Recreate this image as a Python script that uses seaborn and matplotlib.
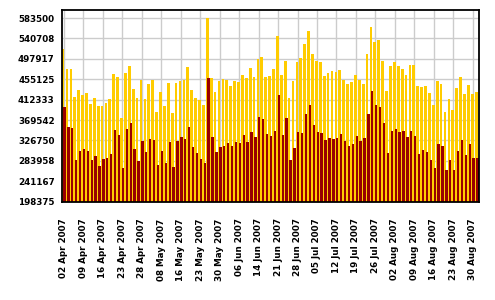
import matplotlib
matplotlib.use("Agg")
import matplotlib.pyplot as plt
import seaborn as sns
import numpy as np
import pandas as pd


# daily values
dates = [
    "02 Apr 2007", "03 Apr 2007", "04 Apr 2007", "05 Apr 2007", "06 Apr 2007",
    "09 Apr 2007", "10 Apr 2007", "11 Apr 2007", "12 Apr 2007", "13 Apr 2007",
    "16 Apr 2007", "17 Apr 2007", "18 Apr 2007", "19 Apr 2007", "20 Apr 2007",
    "23 Apr 2007", "24 Apr 2007", "25 Apr 2007", "26 Apr 2007", "27 Apr 2007",
    "28 Apr 2007", "30 Apr 2007", "02 May 2007", "03 May 2007", "04 May 2007",
    "08 May 2007", "09 May 2007", "10 May 2007", "11 May 2007", "14 May 2007",
    "16 May 2007", "17 May 2007", "18 May 2007", "21 May 2007", "22 May 2007",
    "23 May 2007", "24 May 2007", "25 May 2007", "28 May 2007", "29 May 2007",
    "30 May 2007", "31 May 2007", "01 Jun 2007", "04 Jun 2007", "05 Jun 2007",
    "06 Jun 2007", "07 Jun 2007", "08 Jun 2007", "11 Jun 2007", "12 Jun 2007",
    "14 Jun 2007", "15 Jun 2007", "18 Jun 2007", "19 Jun 2007", "20 Jun 2007",
    "21 Jun 2007", "22 Jun 2007", "25 Jun 2007", "26 Jun 2007", "27 Jun 2007",
    "28 Jun 2007", "29 Jun 2007", "02 Jul 2007", "03 Jul 2007", "04 Jul 2007",
    "05 Jul 2007", "06 Jul 2007", "09 Jul 2007", "10 Jul 2007", "11 Jul 2007",
    "12 Jul 2007", "13 Jul 2007", "16 Jul 2007", "17 Jul 2007", "18 Jul 2007",
    "19 Jul 2007", "20 Jul 2007", "23 Jul 2007", "24 Jul 2007", "25 Jul 2007",
    "26 Jul 2007", "27 Jul 2007", "30 Jul 2007", "31 Jul 2007", "01 Aug 2007",
    "02 Aug 2007", "03 Aug 2007", "06 Aug 2007", "07 Aug 2007", "08 Aug 2007",
    "09 Aug 2007", "10 Aug 2007", "13 Aug 2007", "14 Aug 2007", "15 Aug 2007",
    "16 Aug 2007", "17 Aug 2007", "20 Aug 2007", "21 Aug 2007", "22 Aug 2007",
    "23 Aug 2007", "24 Aug 2007", "27 Aug 2007", "28 Aug 2007", "29 Aug 2007",
    "30 Aug 2007", "31 Aug 2007",
]

yellow_vals = [
    518700, 476400, 476400, 417300, 432100, 421500, 425700, 402500, 415100, 398200,
    398200, 404600, 413000, 465900, 459500, 372900, 468000, 482800, 434200, 415100,
    453200, 413000, 444700, 453200, 385600, 427800, 398200, 446800, 383500, 446800,
    451100, 453900, 480700, 432100, 415100, 410900, 400400, 584000, 457400, 427800,
    451100, 455300, 453200, 440500, 451100, 449000, 463800, 457400, 478500, 459500,
    497600, 501800, 459500, 461600, 476400, 546200, 463800, 493300, 415100, 451100,
    491200, 499700, 529300, 556700, 508100, 493300, 491200, 461600, 468000, 472200,
    470100, 474300, 453200, 444700, 449000, 463800, 453200, 444700, 508100, 565200,
    533500, 537700, 493300, 429900, 482800, 491200, 482800, 476400, 463800, 484900,
    484900, 440500, 438400, 440500, 425700, 400400, 451100, 444700, 385600, 413000,
    389800, 436300, 459500, 423600, 442600, 423600, 427800,
]

red_vals = [
    396100, 356000, 353900, 286200, 305300, 308100, 305300, 286200, 294700, 273600,
    288400, 290500, 298900, 349600, 339100, 269300, 351800, 364400, 309500, 284100,
    326400, 303100, 330600, 328500, 275700, 305300, 279900, 324300, 271500, 326400,
    334800, 330600, 356000, 313700, 301000, 288400, 279900, 457400, 334800, 303100,
    313700, 315800, 322200, 315800, 324300, 322200, 339100, 324300, 345400, 334800,
    375000, 370800, 341200, 337000, 347500, 421500, 339100, 372900, 286200, 311600,
    345400, 343300, 381300, 400400, 360200, 345400, 343300, 328500, 332700, 330600,
    332700, 341200, 326400, 315800, 320100, 337000, 326400, 332700, 381300, 429900,
    400400, 396100, 364400, 301000, 347500, 351800, 345400, 347500, 334800, 347500,
    337000, 298900, 307400, 303100, 286200, 269300, 320100, 315800, 265100, 286200,
    265100, 305300, 328500, 296800, 320100, 290500, 290500,
]

y_ticks = [198375, 241167, 283958, 326750, 369542, 412333, 455125, 497917, 540708, 583500]


def bars_plot(df):
    fig = plt.figure(figsize=(4.95, 3.0), dpi=100)
    ax = fig.add_axes([0.1247, 0.3277, 0.8424, 0.639])

    # yellow behind, dark red in front, shifted a little to the right
    sns.barplot(x=df['pos'] - 0.15, y=df['yellow'], native_scale=True, width=0.7,
                color='#FFCC00', saturation=1, linewidth=0, errorbar=None, ax=ax)
    sns.barplot(x=df['pos'] + 0.2, y=df['red'], native_scale=True, width=0.6,
                color='#990000', saturation=1, linewidth=0, errorbar=None, ax=ax)

    ax.set_xlim(-0.5, len(df) - 0.5)
    ax.set_ylim(198375, 600400)
    ax.set_xlabel('')
    ax.set_ylabel('')

    ax.set_yticks(y_ticks)
    ax.set_yticklabels([str(v) for v in y_ticks], fontsize=6.3, fontweight='bold')
    ax.set_xticks(df['pos'][::5])
    ax.set_xticklabels(df['date'][::5], rotation=90, fontsize=6.3, fontweight='bold')
    ax.set_xticks(df['pos'], minor=True)

    ax.tick_params(axis='y', length=2, width=1, pad=3, colors='black')
    ax.tick_params(axis='x', which='both', length=4, width=1, pad=8, colors='black')

    ax.set_axisbelow(True)
    ax.grid(True, which='major', color='#cccccc', linewidth=1)
    for s in ax.spines.values():
        s.set_color('black')
        s.set_linewidth(1.3)

    fig.savefig('out.png', dpi=100)


def main():
    sns.set_style("white")
    plt.rcParams['font.family'] = ['DejaVu Sans']
    df = pd.DataFrame({'date': dates, 'yellow': yellow_vals, 'red': red_vals})
    df['pos'] = np.arange(len(df))
    bars_plot(df)


if __name__ == '__main__':
    main()
